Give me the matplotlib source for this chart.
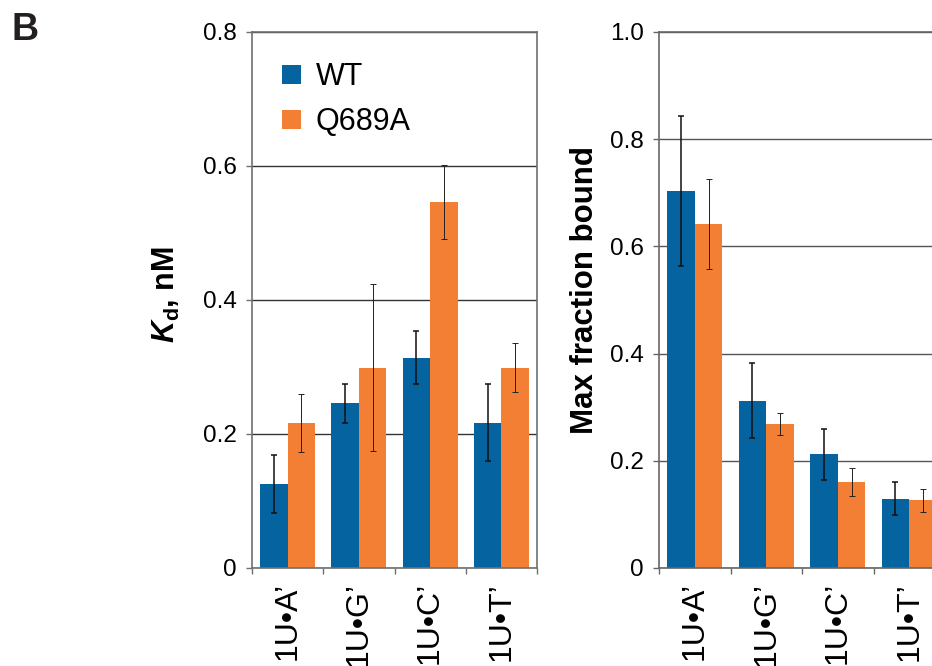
import matplotlib
matplotlib.use("Agg")
import matplotlib.pyplot as plt
import numpy as np

plt.rcParams['font.family'] = ['Liberation Sans', 'DejaVu Sans']
plt.rcParams['mathtext.fontset'] = 'custom'
plt.rcParams['mathtext.it'] = 'Liberation Sans:bold:italic'
plt.rcParams['mathtext.rm'] = 'Liberation Sans:bold'

categories = ["1U\u2022A\u2019", "1U\u2022G\u2019", "1U\u2022C\u2019", "1U\u2022T\u2019"]
series = ["WT", "Q689A"]

# Kd, nM
kd_wt = [0.125, 0.246, 0.314, 0.217]
kd_wt_err = [0.043, 0.029, 0.040, 0.057]
kd_q = [0.216, 0.299, 0.546, 0.299]
kd_q_err = [0.043, 0.125, 0.055, 0.037]

# max fraction bound
mf_wt = [0.703, 0.312, 0.212, 0.129]
mf_wt_err = [0.140, 0.070, 0.048, 0.031]
mf_q = [0.642, 0.269, 0.161, 0.126]
mf_q_err = [0.084, 0.021, 0.026, 0.022]

blue = "#05639F"
orange = "#F27F33"


def draw(ax, wt, wt_err, q, q_err, ymax, yticks, ticklabels, grid_col, spine_col):
    x = np.arange(len(categories))
    w = 0.385
    ax.bar(x - w / 2, wt, w, color=blue, label=series[0], zorder=2)
    ax.bar(x + w / 2, q, w, color=orange, label=series[1], zorder=2)
    ax.errorbar(x - w / 2, wt, yerr=wt_err, fmt="none", ecolor="#111111",
                elinewidth=1.1, capsize=2.5, capthick=1.1, zorder=3)
    ax.errorbar(x + w / 2, q, yerr=q_err, fmt="none", ecolor="#222222",
                elinewidth=0.7, capsize=2.5, capthick=0.7, zorder=3)
    ax.set_xlim(-0.5, len(categories) - 0.5)
    ax.set_ylim(0, ymax)
    ax.set_yticks(yticks)
    ax.set_yticklabels(ticklabels)
    ax.yaxis.grid(True, color=grid_col, linewidth=1.0, zorder=0)
    ax.set_axisbelow(True)
    ax.set_xticks(x)
    ax.set_xticklabels(categories, rotation=90, fontsize=23)
    ax.set_xticks(np.arange(len(categories) + 1) - 0.5, minor=True)
    ax.tick_params(axis="x", which="major", length=0, pad=10)
    ax.tick_params(axis="x", which="minor", length=4, width=1, color=spine_col,
                   direction="out")
    ax.tick_params(axis="y", length=4, width=1, color=spine_col, pad=7,
                   labelsize=17.5)
    for s in ax.spines.values():
        s.set_color(spine_col)
        s.set_linewidth(1.2)


fig = plt.figure(figsize=(9.32, 6.66), dpi=100)

ax1 = fig.add_axes([252 / 932, 1 - 568 / 666, 285 / 932, 536 / 666])
draw(ax1, kd_wt, kd_wt_err, kd_q, kd_q_err, 0.8,
     [0, 0.2, 0.4, 0.6, 0.8], ["0", "0.2", "0.4", "0.6", "0.8"],
     "#333333", "#707070")
ax1.set_ylabel(r"$K_\mathrm{d}$, nM", fontsize=22, fontweight="bold")
ax1.yaxis.set_label_coords(-0.246, 0.51)
ax1.legend(loc="upper left", bbox_to_anchor=(0.01, 0.995), frameon=False,
           fontsize=22, handlelength=0.6, handleheight=0.6,
           handletextpad=0.5, labelspacing=0.5)

ax2 = fig.add_axes([659 / 932, 1 - 568 / 666, 286 / 932, 536 / 666])
draw(ax2, mf_wt, mf_wt_err, mf_q, mf_q_err, 1.0,
     [0, 0.2, 0.4, 0.6, 0.8, 1.0], ["0", "0.2", "0.4", "0.6", "0.8", "1.0"],
     "#555555", "#666666")
ax2.set_ylabel("Max fraction bound", fontsize=22.5, fontweight="bold")
ax2.yaxis.set_label_coords(-0.206, 0.519)

fig.text(12 / 932, 1 - 12 / 666, "B", fontsize=27, fontweight="bold",
         va="top", ha="left", color="#231f20")

fig.savefig("out.png", dpi=100)
